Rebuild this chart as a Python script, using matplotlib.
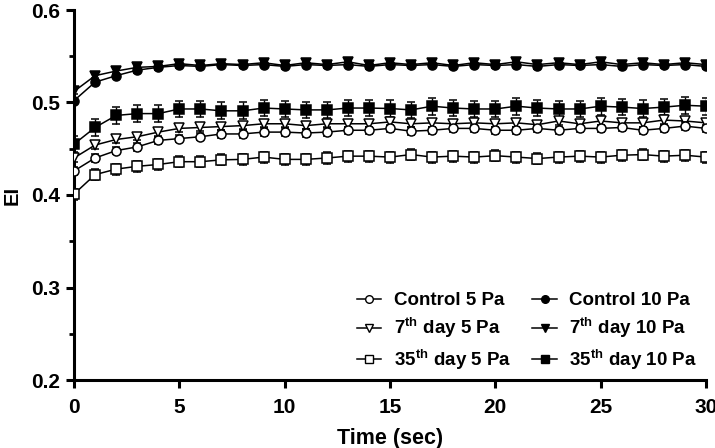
import matplotlib
matplotlib.use("Agg")
import matplotlib.pyplot as plt
from matplotlib.ticker import MultipleLocator
from matplotlib.lines import Line2D

plt.rcParams['font.family'] = ['Liberation Sans', 'DejaVu Sans']
plt.rcParams['font.weight'] = 'bold'
plt.rcParams['mathtext.fontset'] = 'custom'
plt.rcParams['mathtext.rm'] = 'Liberation Sans:bold'
plt.rcParams['mathtext.bf'] = 'Liberation Sans:bold'
plt.rcParams['mathtext.it'] = 'Liberation Sans:bold'

time = list(range(31))

control_5 = [0.426, 0.440, 0.448, 0.452, 0.459, 0.461, 0.463, 0.466, 0.466, 0.468,
             0.468, 0.467, 0.468, 0.470, 0.470, 0.472, 0.469, 0.470, 0.472, 0.472,
             0.470, 0.470, 0.472, 0.470, 0.472, 0.472, 0.473, 0.470, 0.472, 0.4745, 0.472]
day7_5 = [0.440, 0.454, 0.460, 0.463, 0.468, 0.472, 0.473, 0.474, 0.475, 0.477,
          0.477, 0.475, 0.477, 0.477, 0.477, 0.479, 0.477, 0.478, 0.477, 0.478,
          0.477, 0.478, 0.476, 0.480, 0.477, 0.480, 0.478, 0.478, 0.481, 0.480, 0.478]
day35_5 = [0.401, 0.422, 0.428, 0.431, 0.433, 0.436, 0.436, 0.438, 0.4385, 0.441,
           0.4385, 0.4385, 0.440, 0.442, 0.442, 0.441, 0.4437, 0.441, 0.442, 0.441,
           0.4425, 0.441, 0.4394, 0.441, 0.442, 0.441, 0.443, 0.4437, 0.442, 0.443, 0.441]
control_10 = [0.502, 0.522, 0.529, 0.535, 0.538, 0.540, 0.539, 0.541, 0.540, 0.541,
              0.539, 0.541, 0.540, 0.541, 0.539, 0.541, 0.540, 0.541, 0.539, 0.541,
              0.540, 0.541, 0.539, 0.541, 0.540, 0.541, 0.539, 0.541, 0.540, 0.541, 0.539]
day7_10 = [0.512, 0.529, 0.534, 0.538, 0.539, 0.542, 0.540, 0.542, 0.541, 0.543,
           0.540, 0.543, 0.541, 0.544, 0.540, 0.543, 0.541, 0.543, 0.540, 0.543,
           0.541, 0.544, 0.541, 0.543, 0.541, 0.544, 0.541, 0.543, 0.541, 0.543, 0.541]
day35_10 = [0.455, 0.473, 0.486, 0.488, 0.488, 0.493, 0.493, 0.491, 0.491, 0.494,
            0.493, 0.492, 0.492, 0.494, 0.494, 0.4935, 0.492, 0.496, 0.494, 0.493,
            0.493, 0.496, 0.494, 0.493, 0.493, 0.496, 0.495, 0.4935, 0.495, 0.497, 0.496]

err_control_5 = 0.004
err_day7_5 = 0.004
err_day35_5 = 0.006
err_control_10 = 0.003
err_day7_10 = 0.003
err_day35_10 = 0.009

labels = ['Control 5 Pa', '7$^{\\mathrm{th}}$ day 5 Pa', '35$^{\\mathrm{th}}$ day 5 Pa',
          'Control 10 Pa', '7$^{\\mathrm{th}}$ day 10 Pa', '35$^{\\mathrm{th}}$ day 10 Pa']

fig = plt.figure(figsize=(7.15, 4.48), dpi=100)
ax = fig.add_axes([74/715, 1-380/448, 632/715, 370/448])

series = [
    (day35_10, err_day35_10, 's', 'black', labels[5], 3),
    (day7_10, err_day7_10, 'v', 'black', labels[4], 4),
    (control_10, err_control_10, 'o', 'black', labels[3], 5),
    (day35_5, err_day35_5, 's', 'white', labels[2], 6),
    (day7_5, err_day7_5, 'v', 'white', labels[1], 7),
    (control_5, err_control_5, 'o', 'white', labels[0], 8),
]
handles = {}
for vals, err, mk, fc, lab, z in series:
    ax.errorbar(time, vals, yerr=err, fmt='-', marker=mk, color='black',
                mfc=fc, mec='black', mew=1.1, ms=6.5 if mk != 'v' else 7.2,
                lw=1.1, elinewidth=1.0, capsize=3, capthick=1.0, zorder=z)
    handles[lab] = Line2D([], [], color='black', lw=1.1, marker=mk, mfc=fc,
                          mec='black', mew=1.0, ms=5.5 if mk != 'v' else 6.0)

order = labels
leg = ax.legend([handles[l] for l in order], order, ncol=2, frameon=False,
                loc='upper left', bbox_to_anchor=((357-74)/632, (380-292)/370),
                fontsize=13.5, handlelength=1.3, handletextpad=0.65,
                columnspacing=1.15, labelspacing=0.38, borderaxespad=0.0,
                borderpad=0.0)

ax.set_xlim(0, 30)
ax.set_ylim(0.2, 0.6)
ax.xaxis.set_major_locator(MultipleLocator(5))
ax.yaxis.set_minor_locator(MultipleLocator(0.05))
ax.set_yticks([0.2, 0.3, 0.4, 0.5, 0.6])
ax.set_yticklabels(['0.2', '0.3', '0.4', '0.5', '0.6'])
for s in ['top', 'right']:
    ax.spines[s].set_visible(False)
for s in ['left', 'bottom']:
    ax.spines[s].set_linewidth(2.2)
ax.tick_params(which='major', direction='out', length=6, width=2.2, labelsize=15, pad=4)
ax.tick_params(axis='x', which='major', pad=7)
ax.tick_params(which='minor', direction='out', length=3.5, width=2.0)
ax.tick_params(axis='x', which='minor', length=0)
ax.set_xlabel('Time (sec)', fontsize=15.5, fontweight='bold', labelpad=8)
ax.set_ylabel('EI', fontsize=14.5, fontweight='bold')
ax.yaxis.set_label_coords((22-74)/632, 0.5)

fig.savefig('out.png', dpi=100)
